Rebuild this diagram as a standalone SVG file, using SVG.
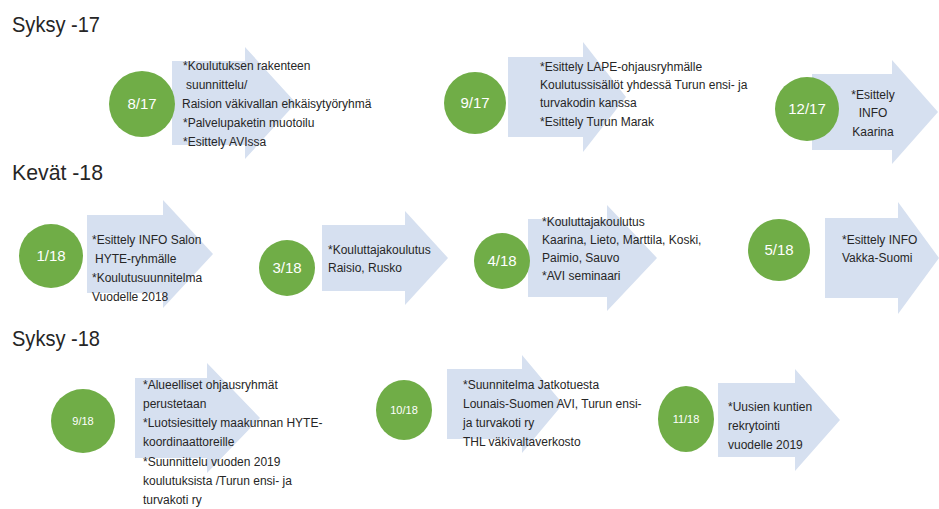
<svg xmlns="http://www.w3.org/2000/svg" width="939" height="509" viewBox="0 0 939 509">
<style>
.bg{fill:#ffffff}
.title{font-family:"Liberation Sans",Arial,sans-serif;font-size:22px;fill:#262626}
.arrow{fill:#D6E0F0}
.dot{fill:#70AD47}
.lbl{font-family:"Liberation Sans",Arial,sans-serif;font-size:15px;fill:#ffffff;text-anchor:middle}
.lbls{font-family:"Liberation Sans",Arial,sans-serif;font-size:11px;fill:#ffffff;text-anchor:middle}
.txt{font-family:"Liberation Sans",Arial,sans-serif;font-size:12px;fill:#262626}
.mid{text-anchor:middle}
</style>
<rect class="bg" x="0" y="0" width="939" height="509"/>
<g id="titles">
<text class="title" x="12" y="32" textLength="88" lengthAdjust="spacingAndGlyphs">Syksy -17</text>
<text class="title" x="12" y="180" textLength="91" lengthAdjust="spacingAndGlyphs">Kevät -18</text>
<text class="title" x="12" y="346" textLength="88" lengthAdjust="spacingAndGlyphs">Syksy -18</text>
</g>
<g id="connectors"></g>
<g id="n817">
<path class="arrow" d="M172 61H245V47L296 103L245 159V145H172Z"/>
<circle class="dot" cx="142" cy="104" r="33"/>
<text class="lbl" x="142" y="109">8/17</text>
<text class="txt" x="183" y="70">*Koulutuksen rakenteen</text>
<text class="txt" x="186" y="89">suunnittelu/</text>
<text class="txt" x="182" y="108">Raision väkivallan ehkäisytyöryhmä</text>
<text class="txt" x="183" y="127">*Palvelupaketin muotoilu</text>
<text class="txt" x="183" y="146">*Esittely AVIssa</text>
</g>
<g id="n917">
<path class="arrow" d="M508 57H583V42L626 97L583 152V137H508Z"/>
<circle class="dot" cx="475" cy="103" r="31"/>
<text class="lbl" x="475" y="108">9/17</text>
<text class="txt" x="540" y="71">*Esittely LAPE-ohjausryhmälle</text>
<text class="txt" x="540" y="89">Koulutussisällöt yhdessä Turun ensi- ja</text>
<text class="txt" x="540" y="107">turvakodin kanssa</text>
<text class="txt" x="540" y="126">*Esittely Turun Marak</text>
</g>
<g id="n1217">
<path class="arrow" d="M812 74H892V60L938 112L892 164V150H812Z"/>
<circle class="dot" cx="807" cy="109" r="32"/>
<text class="lbl" x="807" y="114">12/17</text>
<text class="txt mid" x="873" y="99">*Esittely</text>
<text class="txt mid" x="873" y="117">INFO</text>
<text class="txt mid" x="873" y="136">Kaarina</text>
</g>
<g id="n118">
<path class="arrow" d="M87 215H163V200L213 254L163 308V293H87Z"/>
<circle class="dot" cx="51" cy="256" r="32"/>
<text class="lbl" x="51" y="261">1/18</text>
<text class="txt" x="92" y="244">*Esittely INFO Salon</text>
<text class="txt" x="95" y="263">HYTE-ryhmälle</text>
<text class="txt" x="92" y="282">*Koulutusuunnitelma</text>
<text class="txt" x="92" y="301">Vuodelle 2018</text>
</g>
<g id="n318">
<path class="arrow" d="M322 225H405V211L448 258L405 305V291H322Z"/>
<circle class="dot" cx="287" cy="268" r="28"/>
<text class="lbl" x="287" y="273">3/18</text>
<text class="txt" x="328" y="254">*Kouluttajakoulutus</text>
<text class="txt" x="328" y="272">Raisio, Rusko</text>
</g>
<g id="n418">
<path class="arrow" d="M528 219H607V205L657 258L607 311V297H528Z"/>
<circle class="dot" cx="502" cy="261" r="28"/>
<text class="lbl" x="502" y="266">4/18</text>
<text class="txt" x="542" y="226">*Kouluttajakoulutus</text>
<text class="txt" x="542" y="244">Kaarina, Lieto, Marttila, Koski,</text>
<text class="txt" x="542" y="262">Paimio, Sauvo</text>
<text class="txt" x="542" y="280">*AVI seminaari</text>
</g>
<g id="n518">
<path class="arrow" d="M825 218H898V202L939 258L898 314V298H825Z"/>
<circle class="dot" cx="779" cy="250" r="31"/>
<text class="lbl" x="779" y="255">5/18</text>
<text class="txt" x="842" y="244">*Esittely INFO</text>
<text class="txt" x="842" y="262">Vakka-Suomi</text>
</g>
<g id="n918">
<path class="arrow" d="M135 378H207V363L260 418L207 473V458H135Z"/>
<circle class="dot" cx="83" cy="421" r="32"/>
<text class="lbls" x="83" y="425">9/18</text>
<text class="txt" x="143" y="389">*Alueelliset ohjausryhmät</text>
<text class="txt" x="143" y="408">perustetaan</text>
<text class="txt" x="143" y="427">*Luotsiesittely maakunnan HYTE-</text>
<text class="txt" x="143" y="446">koordinaattoreille</text>
<text class="txt" x="143" y="466">*Suunnittelu vuoden 2019</text>
<text class="txt" x="143" y="485">koulutuksista /Turun ensi- ja</text>
<text class="txt" x="143" y="504">turvakoti ry</text>
</g>
<g id="n1018">
<path class="arrow" d="M447 369H522V355L563 404L522 453V439H447Z"/>
<ellipse class="dot" cx="404" cy="410" rx="28" ry="30"/>
<text class="lbls" x="404" y="414">10/18</text>
<text class="txt" x="463" y="389">*Suunnitelma Jatkotuesta</text>
<text class="txt" x="463" y="408">Lounais-Suomen AVI, Turun ensi-</text>
<text class="txt" x="463" y="427">ja turvakoti ry</text>
<text class="txt" x="463" y="446">THL väkivaltaverkosto</text>
</g>
<g id="n1118">
<path class="arrow" d="M718 383H795V369L840 420L795 471V457H718Z"/>
<ellipse class="dot" cx="686" cy="419" rx="28" ry="33"/>
<text class="lbls" x="686" y="423">11/18</text>
<text class="txt" x="728" y="411">*Uusien kuntien</text>
<text class="txt" x="728" y="430">rekrytointi</text>
<text class="txt" x="728" y="449">vuodelle 2019</text>
</g>
</svg>
